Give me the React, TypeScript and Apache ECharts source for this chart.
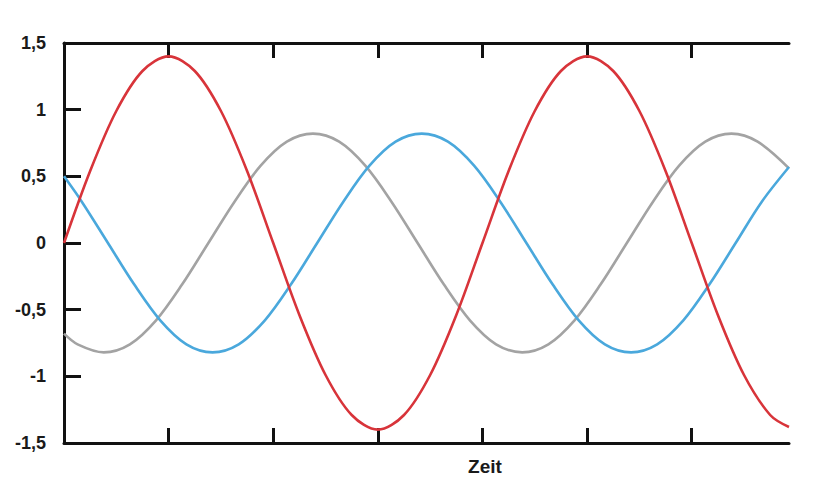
import { useEffect, useRef } from "react";
import * as echarts from "echarts";

// Zeitachse in Teilstrich-Einheiten (1 Einheit = Abstand zweier Teilstriche),
// je Kurve an den abgelesenen Stützstellen (Nulldurchgänge, Extrema, Zwischenpunkte)
const rotZeit = [
  0, 0.25, 0.5, 0.75, 1, 1.25, 1.5, 1.75, 2, 2.25, 2.5, 2.75, 3, 3.25, 3.5,
  3.75, 4, 4.25, 4.5, 4.75, 5, 5.25, 5.5, 5.75, 6, 6.25, 6.5, 6.75, 6.93,
];
const rot = [
  0, 0.54, 0.99, 1.29, 1.4, 1.29, 0.99, 0.54, 0, -0.54, -0.99, -1.29, -1.4,
  -1.29, -0.99, -0.54, 0, 0.54, 0.99, 1.29, 1.4, 1.29, 0.99, 0.54, 0, -0.54,
  -0.99, -1.29, -1.38,
];

const blauZeit = [
  0, 0.17, 0.42, 0.67, 0.92, 1.17, 1.42, 1.67, 1.92, 2.17, 2.42, 2.67, 2.92,
  3.17, 3.42, 3.67, 3.92, 4.17, 4.42, 4.67, 4.92, 5.17, 5.42, 5.67, 5.92, 6.17,
  6.42, 6.67, 6.93,
];
const blau = [
  0.5, 0.31, 0, -0.31, -0.58, -0.76, -0.82, -0.76, -0.58, -0.31, 0, 0.31, 0.58,
  0.76, 0.82, 0.76, 0.58, 0.31, 0, -0.31, -0.58, -0.76, -0.82, -0.76, -0.58,
  -0.31, 0, 0.31, 0.57,
];

const grauZeit = [
  0, 0.13, 0.38, 0.63, 0.88, 1.13, 1.38, 1.63, 1.88, 2.13, 2.38, 2.63, 2.88,
  3.13, 3.38, 3.63, 3.88, 4.13, 4.38, 4.63, 4.88, 5.13, 5.38, 5.63, 5.88, 6.13,
  6.38, 6.63, 6.93,
];
const grau = [
  -0.68, -0.76, -0.82, -0.76, -0.58, -0.31, 0, 0.31, 0.58, 0.76, 0.82, 0.76,
  0.58, 0.31, 0, -0.31, -0.58, -0.76, -0.82, -0.76, -0.58, -0.31, 0, 0.31,
  0.58, 0.76, 0.82, 0.76, 0.56,
];

const xTicks = [1, 2, 3, 4, 5, 6];
const yTicks = [-1, -0.5, 0, 0.5, 1];

const FONT = "'Liberation Sans', Arial, sans-serif";

export default function App() {
  const ref = useRef<HTMLDivElement>(null);

  useEffect(() => {
    if (!ref.current) return;
    const chart = echarts.init(ref.current, undefined, { renderer: "svg" });

    const line = (xs: number[], ys: number[], color: string, z: number) => ({
      type: "line" as const,
      data: xs.map((x, i) => [x, ys[i]]),
      smooth: 0.33,
      showSymbol: false,
      z,
      lineStyle: { color, width: 2.6 },
      itemStyle: { color },
    });

    const axisLine = {
      show: true,
      onZero: false,
      lineStyle: { color: "#111", width: 3 },
    };
    const xTick = {
      inside: true,
      length: 15,
      customValues: xTicks,
      lineStyle: { color: "#111", width: 3 },
    };

    chart.setOption({
      animation: false,
      backgroundColor: "#fff",
      grid: { left: 64, right: 41, top: 43, bottom: 44 },
      xAxis: [
        {
          type: "value",
          position: "bottom",
          min: 0,
          max: 6.93,
          interval: 1,
          axisLine,
          axisTick: xTick,
          axisLabel: { show: false },
          splitLine: { show: false },
        },
        {
          type: "value",
          position: "top",
          min: 0,
          max: 6.93,
          interval: 1,
          axisLine,
          axisTick: xTick,
          axisLabel: { show: false },
          splitLine: { show: false },
        },
      ],
      yAxis: {
        type: "value",
        min: -1.5,
        max: 1.5,
        interval: 0.5,
        axisLine,
        axisTick: {
          inside: true,
          length: 17,
          customValues: yTicks,
          lineStyle: { color: "#111", width: 3 },
        },
        axisLabel: {
          margin: 18,
          color: "#1a1a1a",
          fontWeight: "bold",
          fontSize: 18,
          fontFamily: FONT,
          padding: [0, 0, 7, 0],
          formatter: (v: number) => String(v).replace(".", ","),
        },
        splitLine: { show: false },
      },
      graphic: [
        {
          type: "text",
          x: 485,
          y: 466,
          style: {
            text: "Zeit",
            fill: "#1a1a1a",
            font: `bold 19px ${FONT}`,
            align: "center",
            verticalAlign: "middle",
          },
        },
      ],
      series: [
        line(grauZeit, grau, "#a3a3a3", 2),
        line(blauZeit, blau, "#4aa8dc", 3),
        line(rotZeit, rot, "#d8343a", 4),
      ],
    });

    return () => chart.dispose();
  }, []);

  return (
    <div
      ref={ref}
      style={{ position: "absolute", left: 0, top: 0, width: 830, height: 487 }}
    />
  );
}
